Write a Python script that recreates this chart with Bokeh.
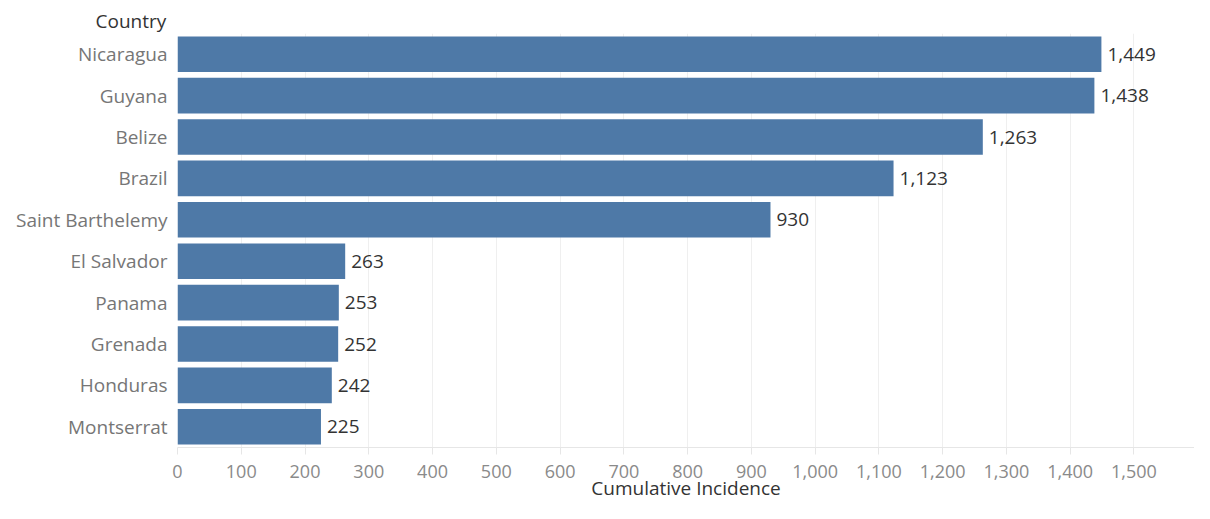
from bokeh.plotting import figure
from bokeh.models import ColumnDataSource, FactorRange, Range1d, FixedTicker, NumeralTickFormatter, Title
from bokeh.core.properties import value
from bokeh.embed import file_html
from bokeh.resources import INLINE

countries = ["Nicaragua", "Guyana", "Belize", "Brazil", "Saint Barthelemy",
             "El Salvador", "Panama", "Grenada", "Honduras", "Montserrat"]
incidence = [1449, 1438, 1263, 1123, 930, 263, 253, 252, 242, 225]
tick_values = list(range(0, 1700, 100))

labels = ["{:,}".format(v) for v in incidence]
src = ColumnDataSource(dict(country=countries, val=incidence, lab=labels))

FONT = "Open Sans"

p = figure(width=1194, height=503, output_backend="svg", toolbar_location=None,
           y_range=FactorRange(factors=countries[::-1], range_padding=0),
           x_range=Range1d(0, 1595),
           min_border_left=177, min_border_right=0, min_border_top=33, min_border_bottom=56)
p.outline_line_color = None
p.background_fill_color = "white"

p.hbar(y="country", right="val", left=0, height=0.86, source=src,
       fill_color="#4e79a7", line_color=None)
p.text(x="val", y="country", text="lab", source=src, x_offset=6,
       text_baseline="middle", text_align="left", text_font=value(FONT),
       text_font_size="19px", text_color="#333333")

# grids
p.ygrid.grid_line_color = None
p.xgrid.grid_line_color = "#efefef"
p.xgrid.grid_line_width = 1
p.xgrid.ticker = FixedTicker(ticks=tick_values)

# x axis
xa = p.xaxis[0]
xa.ticker = FixedTicker(ticks=tick_values)
xa.formatter = NumeralTickFormatter(format="0,0")
xa.major_label_overrides = {1600: ""}
xa.axis_line_color = "#e6e6e6"
xa.major_tick_line_color = "#e6e6e6"
xa.major_tick_out = 7
xa.major_tick_in = 0
xa.minor_tick_line_color = None
xa.major_label_text_font = FONT
xa.major_label_text_font_size = "18px"
xa.major_label_text_color = "#8a8a8a"
xa.major_label_standoff = 10
xa.axis_label = "Cumulative Incidence"
xa.axis_label_text_font = FONT
xa.axis_label_text_font_size = "19px"
xa.axis_label_text_font_style = "normal"
xa.axis_label_text_color = "#333333"
xa.axis_label_standoff = -6

# y axis
ya = p.yaxis[0]
ya.axis_line_color = None
ya.major_tick_line_color = None
ya.minor_tick_line_color = None
ya.major_tick_out = 0
ya.major_tick_in = 0
ya.major_label_text_font = FONT
ya.major_label_text_font_size = "19px"
ya.major_label_text_color = "#767676"
ya.major_label_standoff = 10

hdr = Title(text="Country", align="left", offset=-82, standoff=0,
            text_font=FONT, text_font_size="19px", text_font_style="normal",
            text_color="#333333")
p.add_layout(hdr, "above")

open("out.html", "w").write(file_html(p, INLINE))
